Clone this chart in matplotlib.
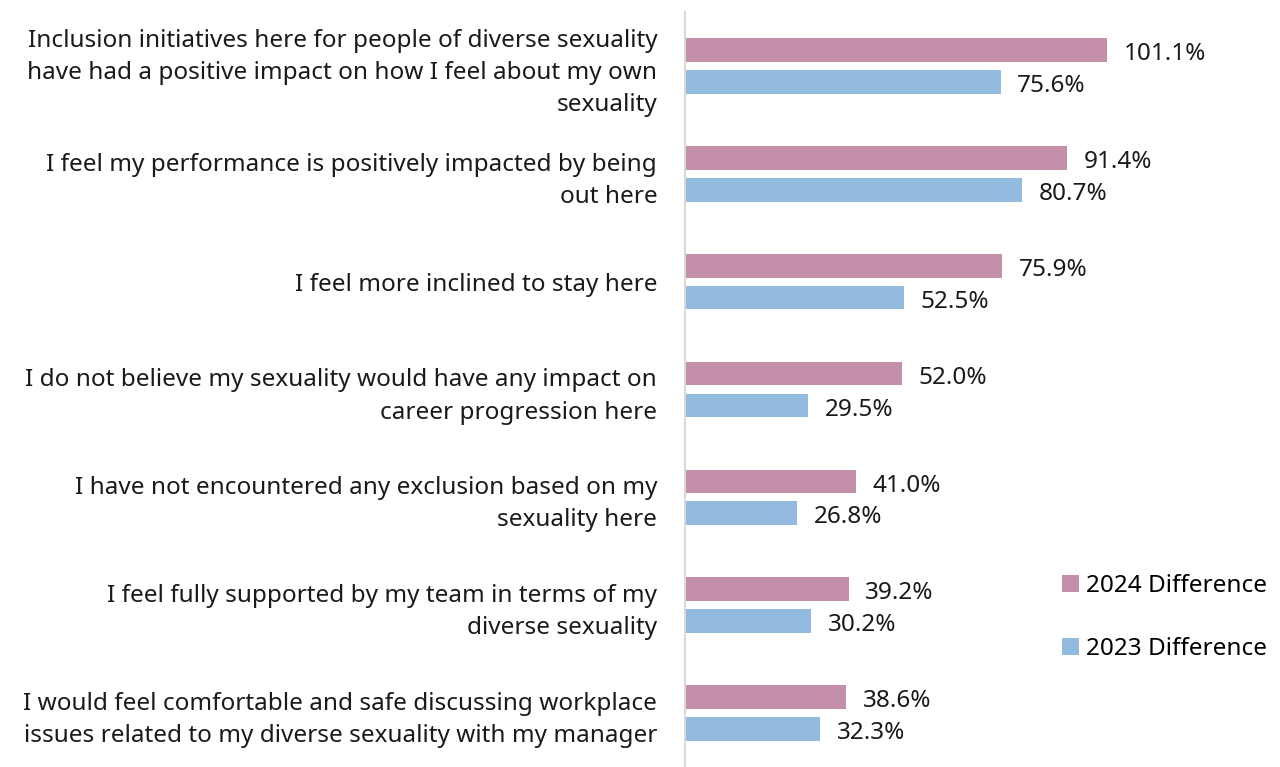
import numpy as np
import matplotlib.pyplot as plt

plt.rcParams['font.family'] = ['Noto Sans', 'DejaVu Sans']

categories = [
    "Inclusion initiatives here for people of diverse sexuality\nhave had a positive impact on how I feel about my own\nsexuality",
    "I feel my performance is positively impacted by being\nout here",
    "I feel more inclined to stay here",
    "I do not believe my sexuality would have any impact on\ncareer progression here",
    "I have not encountered any exclusion based on my\nsexuality here",
    "I feel fully supported by my team in terms of my\ndiverse sexuality",
    "I would feel comfortable and safe discussing workplace\nissues related to my diverse sexuality with my manager",
]
diff_2024 = [101.1, 91.4, 75.9, 52.0, 41.0, 39.2, 38.6]
diff_2023 = [75.6, 80.7, 52.5, 29.5, 26.8, 30.2, 32.3]

pink = '#C48FA9'
blue = '#92BBDF'
fs = 17.5

fig = plt.figure(figsize=(12.8, 7.67), dpi=100)
ax = fig.add_axes([685 / 1280, 0.0, 1 - 685 / 1280, 1 - 12 / 767])

y = np.arange(len(categories))
off = 0.148
h = 0.22
b1 = ax.barh(y - off, diff_2024, height=h, color=pink, label='2024 Difference')
b2 = ax.barh(y + off, diff_2023, height=h, color=blue, label='2023 Difference')

for bars, vals in ((b1, diff_2024), (b2, diff_2023)):
    for bar, v in zip(bars, vals):
        ax.annotate(f'{v:.1f}%', (bar.get_width(), bar.get_y() + bar.get_height() / 2),
                    xytext=(12, -3), textcoords='offset points', va='center', ha='left',
                    fontsize=fs, color='#1a1a1a')

ax.set_ylim(len(categories) - 0.5, -0.5)
ax.set_xlim(0, 142.5)
ax.set_yticks(y)
ax.set_yticklabels(categories, fontsize=fs, color='#1a1a1a', linespacing=1.45)
ax.tick_params(axis='y', length=0, pad=20)
ax.set_xticks([])
for s in ['top', 'right', 'bottom']:
    ax.spines[s].set_visible(False)
ax.spines['left'].set_color('#D9D9D9')
ax.spines['left'].set_linewidth(1.5)

fig.legend(handles=[b1, b2], loc='upper left', bbox_to_anchor=(1040 / 1280, 1 - 552 / 767),
           frameon=False, fontsize=fs, handlelength=0.7, handleheight=0.7,
           handletextpad=0.3, labelspacing=1.6)

fig.savefig('out.png', dpi=100)
